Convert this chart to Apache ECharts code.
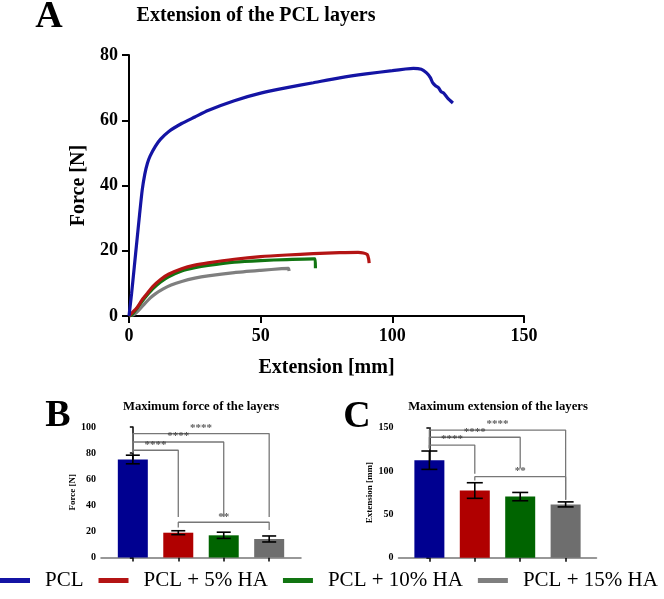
<!DOCTYPE html>
<html>
<head>
<meta charset="utf-8">
<script src="https://cdn.jsdelivr.net/npm/echarts@6/dist/echarts.min.js"></script>
<style>html,body{margin:0;padding:0;background:#fff}#c{width:664px;height:599px}</style>
</head>
<body>
<div id="c"></div>
<script>
// ---------- DATA ----------
const categories = ['PCL', 'PCL + 5% HA', 'PCL + 10% HA', 'PCL + 15% HA'];

// Panel A: force-extension curves
const pclExt   = [0, 1, 2, 3, 4, 5, 6, 7, 8, 10, 12, 15, 20, 25, 30, 40, 50, 60, 70, 80, 90, 100, 105, 108, 111, 113, 114.5, 115.3, 116.5, 117.5, 118.5, 119.5, 121, 123];
const pclForce = [0, 7, 15, 23, 31, 38.5, 43.5, 46.8, 49, 52, 54.2, 56.5, 59, 61, 63, 66, 68.3, 70, 71.5, 73, 74.2, 75.2, 75.7, 75.9, 75.6, 74.5, 73, 71.5, 70.5, 70, 68.8, 68.3, 66.8, 65.3];
const ha5Ext   = [0, 3, 5, 7, 9, 12, 15, 20, 25, 30, 40, 50, 60, 70, 80, 87, 89, 90.5, 91, 91.2];
const ha5Force = [0, 2.5, 5, 7, 9, 11.2, 12.8, 14.5, 15.6, 16.3, 17.4, 18.2, 18.7, 19.1, 19.4, 19.5, 19.3, 18.8, 17.5, 16.2];
const ha10Ext   = [0, 1, 3, 5, 7, 9, 12, 15, 20, 25, 30, 40, 50, 60, 70, 70.7, 70.8];
const ha10Force = [0, 0.3, 2.3, 4.5, 6.5, 8.3, 10.4, 12, 13.8, 14.8, 15.5, 16.5, 17, 17.3, 17.5, 17.5, 14.6];
const ha15Ext   = [0, 2, 4, 6, 8, 10, 13, 16, 20, 25, 30, 40, 50, 58, 60.5, 60.8];
const ha15Force = [0, 0.5, 2, 3.8, 5.5, 6.8, 8.3, 9.5, 10.6, 11.6, 12.3, 13.3, 14, 14.5, 14.6, 13.8];

// Panel B: maximum force (mean, SD)
const maxForceMean = [75.1, 19.0, 17.0, 14.2];
const maxForceSD   = [3.3, 1.5, 2.4, 2.3];
// Panel C: maximum extension (mean, SD)
const maxExtMean = [112.5, 77.5, 70.5, 61.5];
const maxExtSD   = [10.6, 9.0, 4.8, 2.9];

// significance brackets: [fromIdx, toIdx, level, leftEnd, rightEnd, text]
const forceBrackets = [
  [0, 1, 82.2, 80.5, 31, '****'],
  [0, 2, 88.5, 80.5, 31, '****'],
  [0, 3, 95, 80.5, 31, '****'],
  [1, 3, 27, 23, 21, '**']
];
const extBrackets = [
  [0, 1, 130, 126, 97, '****'],
  [0, 2, 139, 126, 103, '****'],
  [0, 3, 147.3, 126, 67, '****'],
  [1, 3, 93.5, 89, 67, '**']
];

// tick values
const barTicks = [0, 1, 2, 3];

// ---------- STYLES ----------
const lineColors = ['#1414a4', '#b41414', '#127512', '#7f7f7f'];
const barColors  = ['#000090', '#b00000', '#006400', '#6e6e6e'];
const serif = 'Liberation Serif';

const chart = echarts.init(document.getElementById('c'));

function zip(a, b) { return a.map((x, i) => [x, b[i]]); }

function errRender(capW) {
  return function (params, api) {
    const x = api.value(0), lo = api.value(1), hi = api.value(2);
    const pl = api.coord([x, lo]), ph = api.coord([x, hi]);
    const st = { stroke: '#000', lineWidth: 1.6 };
    return { type: 'group', children: [
      { type: 'line', shape: { x1: pl[0], y1: pl[1], x2: ph[0], y2: ph[1] }, style: st },
      { type: 'line', shape: { x1: ph[0] - capW, y1: ph[1], x2: ph[0] + capW, y2: ph[1] }, style: st },
      { type: 'line', shape: { x1: pl[0] - capW, y1: pl[1], x2: pl[0] + capW, y2: pl[1] }, style: st }
    ]};
  };
}

function bracketSeries(list, xi, yi) {
  const out = [];
  list.forEach(b => {
    const [f, t, lv, le, re] = b;
    out.push({
      type: 'line', xAxisIndex: xi, yAxisIndex: yi, silent: true, symbol: 'none',
      lineStyle: { color: '#777', width: 1.3 }, z: 3,
      data: [[f, le], [f, lv], [t, lv], [t, re]]
    });
  });
  out.push({
    type: 'scatter', xAxisIndex: xi, yAxisIndex: yi, silent: true, symbolSize: 0.1, z: 4,
    data: list.map(b => ({ value: [(b[0] + b[1]) / 2, b[2]], name: b[5] })),
    label: { show: true, position: 'top', distance: 0, formatter: p => p.name,
      fontFamily: serif, fontSize: 11, fontWeight: 'bold', color: '#333' }
  });
  return out;
}

const option = {
  animation: false,
  backgroundColor: '#fff',
  textStyle: { fontFamily: serif },
  graphic: [
    { type: 'text', x: 49, y: 17, style: { text: 'A', fontFamily: serif, fontSize: 38, fontWeight: 'bold', fill: '#000', align: 'center', verticalAlign: 'middle' } },
    { type: 'text', x: 256, y: 16, style: { text: 'Extension of the PCL layers', fontFamily: serif, fontSize: 20, fontWeight: 'bold', fill: '#000', align: 'center', verticalAlign: 'middle' } },
    { type: 'text', x: 58, y: 416, style: { text: 'B', fontFamily: serif, fontSize: 38, fontWeight: 'bold', fill: '#000', align: 'center', verticalAlign: 'middle' } },
    { type: 'text', x: 201, y: 407, style: { text: 'Maximum force of the layers', fontFamily: serif, fontSize: 12.7, fontWeight: 'bold', fill: '#000', align: 'center', verticalAlign: 'middle' } },
    { type: 'text', x: 357, y: 417, style: { text: 'C', fontFamily: serif, fontSize: 38, fontWeight: 'bold', fill: '#000', align: 'center', verticalAlign: 'middle' } },
    { type: 'text', x: 498, y: 407, style: { text: 'Maximum extension of the layers', fontFamily: serif, fontSize: 12.7, fontWeight: 'bold', fill: '#000', align: 'center', verticalAlign: 'middle' } }
  ],
  legend: {
    data: categories, left: 0, top: 570, width: 664, padding: 0, icon: 'rect', itemWidth: 30, itemHeight: 5, itemGap: 15,
    textStyle: { fontFamily: serif, fontSize: 21, color: '#000', padding: [0, 0, 0, 10] },
    selectedMode: false
  },
  grid: [
    { left: 129, right: 140, top: 55, bottom: 283, containLabel: false },
    { left: 101, right: 363, top: 427, bottom: 41.5, containLabel: false },
    { left: 398.5, right: 67.5, top: 427.7, bottom: 41.3, containLabel: false }
  ],
  xAxis: [
    { gridIndex: 0, type: 'value', min: 0, max: 150, interval: 50,
      name: 'Extension [mm]', nameLocation: 'middle', nameGap: 42,
      nameTextStyle: { fontFamily: serif, fontSize: 20, fontWeight: 'bold', color: '#000' },
      axisLine: { lineStyle: { color: '#000', width: 2 } },
      axisTick: { length: 7, lineStyle: { color: '#000', width: 2 } },
      axisLabel: { margin: 11, fontFamily: serif, fontSize: 18, fontWeight: 'bold', color: '#000' },
      splitLine: { show: false } },
    { gridIndex: 1, type: 'value', min: -0.7, max: 3.7,
      axisLine: { lineStyle: { color: '#777', width: 1.5 } },
      axisTick: { customValues: barTicks, length: 4, lineStyle: { color: '#000', width: 1.5 } },
      axisLabel: { show: false }, splitLine: { show: false } },
    { gridIndex: 2, type: 'value', min: -0.68, max: 3.68,
      axisLine: { lineStyle: { color: '#777', width: 1.5 } },
      axisTick: { customValues: barTicks, length: 4, lineStyle: { color: '#000', width: 1.5 } },
      axisLabel: { show: false }, splitLine: { show: false } }
  ],
  yAxis: [
    { gridIndex: 0, type: 'value', min: 0, max: 80, interval: 20,
      name: 'Force [N]', nameLocation: 'middle', nameGap: 34,
      nameTextStyle: { fontFamily: serif, fontSize: 20, fontWeight: 'bold', color: '#000' },
      axisLine: { show: true, lineStyle: { color: '#000', width: 2 } },
      axisTick: { show: true, length: 7, lineStyle: { color: '#000', width: 2 } },
      axisLabel: { margin: 11, fontFamily: serif, fontSize: 18, fontWeight: 'bold', color: '#000' },
      splitLine: { show: false } },
    { gridIndex: 1, type: 'value', min: 0, max: 100, interval: 20,
      name: 'Force [N]', nameLocation: 'middle', nameGap: 20,
      nameTextStyle: { fontFamily: serif, fontSize: 9, fontWeight: 'bold', color: '#000' },
      axisLine: { show: true, lineStyle: { color: '#000', width: 1.5 } },
      axisTick: { show: true, length: 3, lineStyle: { color: '#000', width: 1.5 } },
      axisLabel: { margin: 5, fontFamily: serif, fontSize: 10, fontWeight: 'bold', color: '#000' },
      splitLine: { show: false } },
    { gridIndex: 2, type: 'value', min: 0, max: 150, interval: 50,
      name: 'Extension [mm]', nameLocation: 'middle', nameGap: 22,
      nameTextStyle: { fontFamily: serif, fontSize: 9, fontWeight: 'bold', color: '#000' },
      axisLine: { show: true, lineStyle: { color: '#000', width: 1.5 } },
      axisTick: { show: true, length: 3, lineStyle: { color: '#000', width: 1.5 } },
      axisLabel: { margin: 5, fontFamily: serif, fontSize: 10, fontWeight: 'bold', color: '#000' },
      splitLine: { show: false } }
  ],
  series: [
    { name: categories[3], type: 'line', xAxisIndex: 0, yAxisIndex: 0, data: zip(ha15Ext, ha15Force), showSymbol: false, smooth: 0.2, color: lineColors[3], lineStyle: { width: 3.2 }, z: 2 },
    { name: categories[2], type: 'line', xAxisIndex: 0, yAxisIndex: 0, data: zip(ha10Ext, ha10Force), showSymbol: false, smooth: 0.2, color: lineColors[2], lineStyle: { width: 3.2 }, z: 3 },
    { name: categories[1], type: 'line', xAxisIndex: 0, yAxisIndex: 0, data: zip(ha5Ext, ha5Force), showSymbol: false, smooth: 0.2, color: lineColors[1], lineStyle: { width: 3.2 }, z: 4 },
    { name: categories[0], type: 'line', xAxisIndex: 0, yAxisIndex: 0, data: zip(pclExt, pclForce), showSymbol: false, smooth: 0.2, color: lineColors[0], lineStyle: { width: 3.2 }, z: 5 },

    { type: 'bar', xAxisIndex: 1, yAxisIndex: 1, barWidth: 30, silent: true,
      data: maxForceMean.map((v, i) => ({ value: [i, v], itemStyle: { color: barColors[i] } })) },
    { type: 'custom', xAxisIndex: 1, yAxisIndex: 1, silent: true, z: 5, renderItem: errRender(7),
      data: maxForceMean.map((v, i) => [i, v - maxForceSD[i], v + maxForceSD[i]]) },
    ...bracketSeries(forceBrackets, 1, 1),

    { type: 'bar', xAxisIndex: 2, yAxisIndex: 2, barWidth: 30, silent: true,
      data: maxExtMean.map((v, i) => ({ value: [i, v], itemStyle: { color: barColors[i] } })) },
    { type: 'custom', xAxisIndex: 2, yAxisIndex: 2, silent: true, z: 5, renderItem: errRender(8),
      data: maxExtMean.map((v, i) => [i, v - maxExtSD[i], v + maxExtSD[i]]) },
    ...bracketSeries(extBrackets, 2, 2)
  ]
};
chart.setOption(option);
</script>
</body>
</html>
